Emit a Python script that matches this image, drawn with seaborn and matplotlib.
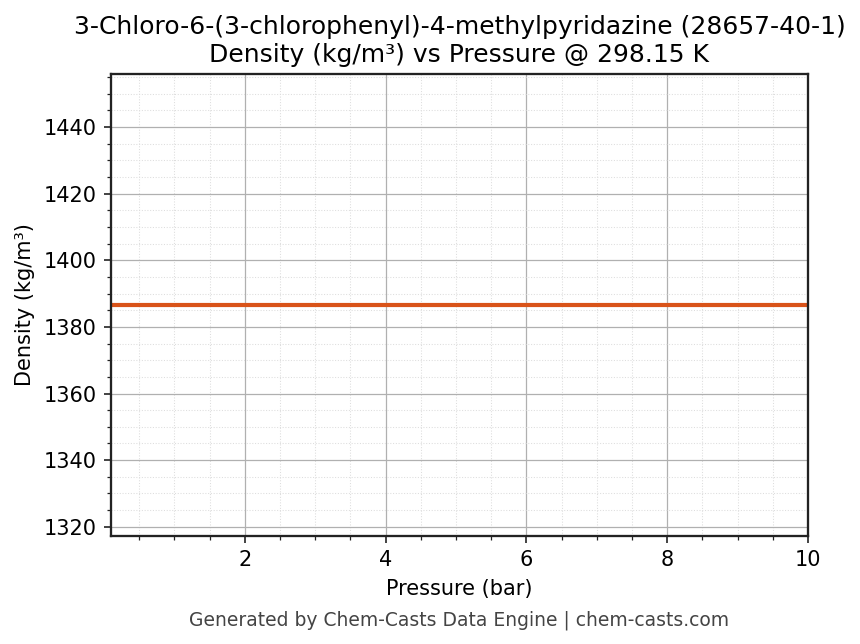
import numpy as np
import pandas as pd
import seaborn as sns
import matplotlib.pyplot as plt
from matplotlib.ticker import MultipleLocator


# data
pressure_bar = [0.1, 1, 2, 3, 4, 5, 6, 7, 8, 9, 10]
density = [1386.6] * len(pressure_bar)

df = pd.DataFrame(dict(pressure=pressure_bar, density=density))

sns.set_style("ticks")
plt.rcParams['font.family'] = ['DejaVu Sans']
plt.rcParams['text.color'] = 'black'
plt.rcParams['axes.labelcolor'] = 'black'

fig, ax = plt.subplots(figsize=(8.6 / 1.5, 6.44 / 1.5), dpi=150)
fig.subplots_adjust(left=0.129, right=0.9395, top=0.885, bottom=0.168)

sns.lineplot(x='pressure', y='density', data=df, ax=ax, color='#d95319', linewidth=2.0)

ax.set_xlim(0.1, 10)
ax.set_ylim(1386.6 * 0.95, 1386.6 * 1.05)
ax.xaxis.set_major_locator(MultipleLocator(2))
ax.xaxis.set_minor_locator(MultipleLocator(0.5))
ax.yaxis.set_major_locator(MultipleLocator(20))
ax.yaxis.set_minor_locator(MultipleLocator(5))

ax.grid(which='major', color='#b0b0b0', linewidth=0.6)
ax.grid(which='minor', color='#dddddd', linewidth=0.5, linestyle=':')
ax.set_axisbelow(True)
for s in ax.spines.values():
    s.set_color('#222222')
    s.set_linewidth(1.1)
ax.tick_params(which='both', colors='#222222', labelcolor='black', labelsize=10)

ax.set_xlabel('Pressure (bar)', fontsize=10, color='black')
ax.set_ylabel('Density (kg/m³)', fontsize=10, color='black')
ax.set_title('3-Chloro-6-(3-chlorophenyl)-4-methylpyridazine (28657-40-1)\n'
             'Density (kg/m³) vs Pressure @ 298.15 K', fontsize=12, color='black')
fig.text(0.534, 0.028, 'Generated by Chem-Casts Data Engine | chem-casts.com',
         ha='center', fontsize=9, color='#444444')

fig.savefig('out.png', dpi=150)
